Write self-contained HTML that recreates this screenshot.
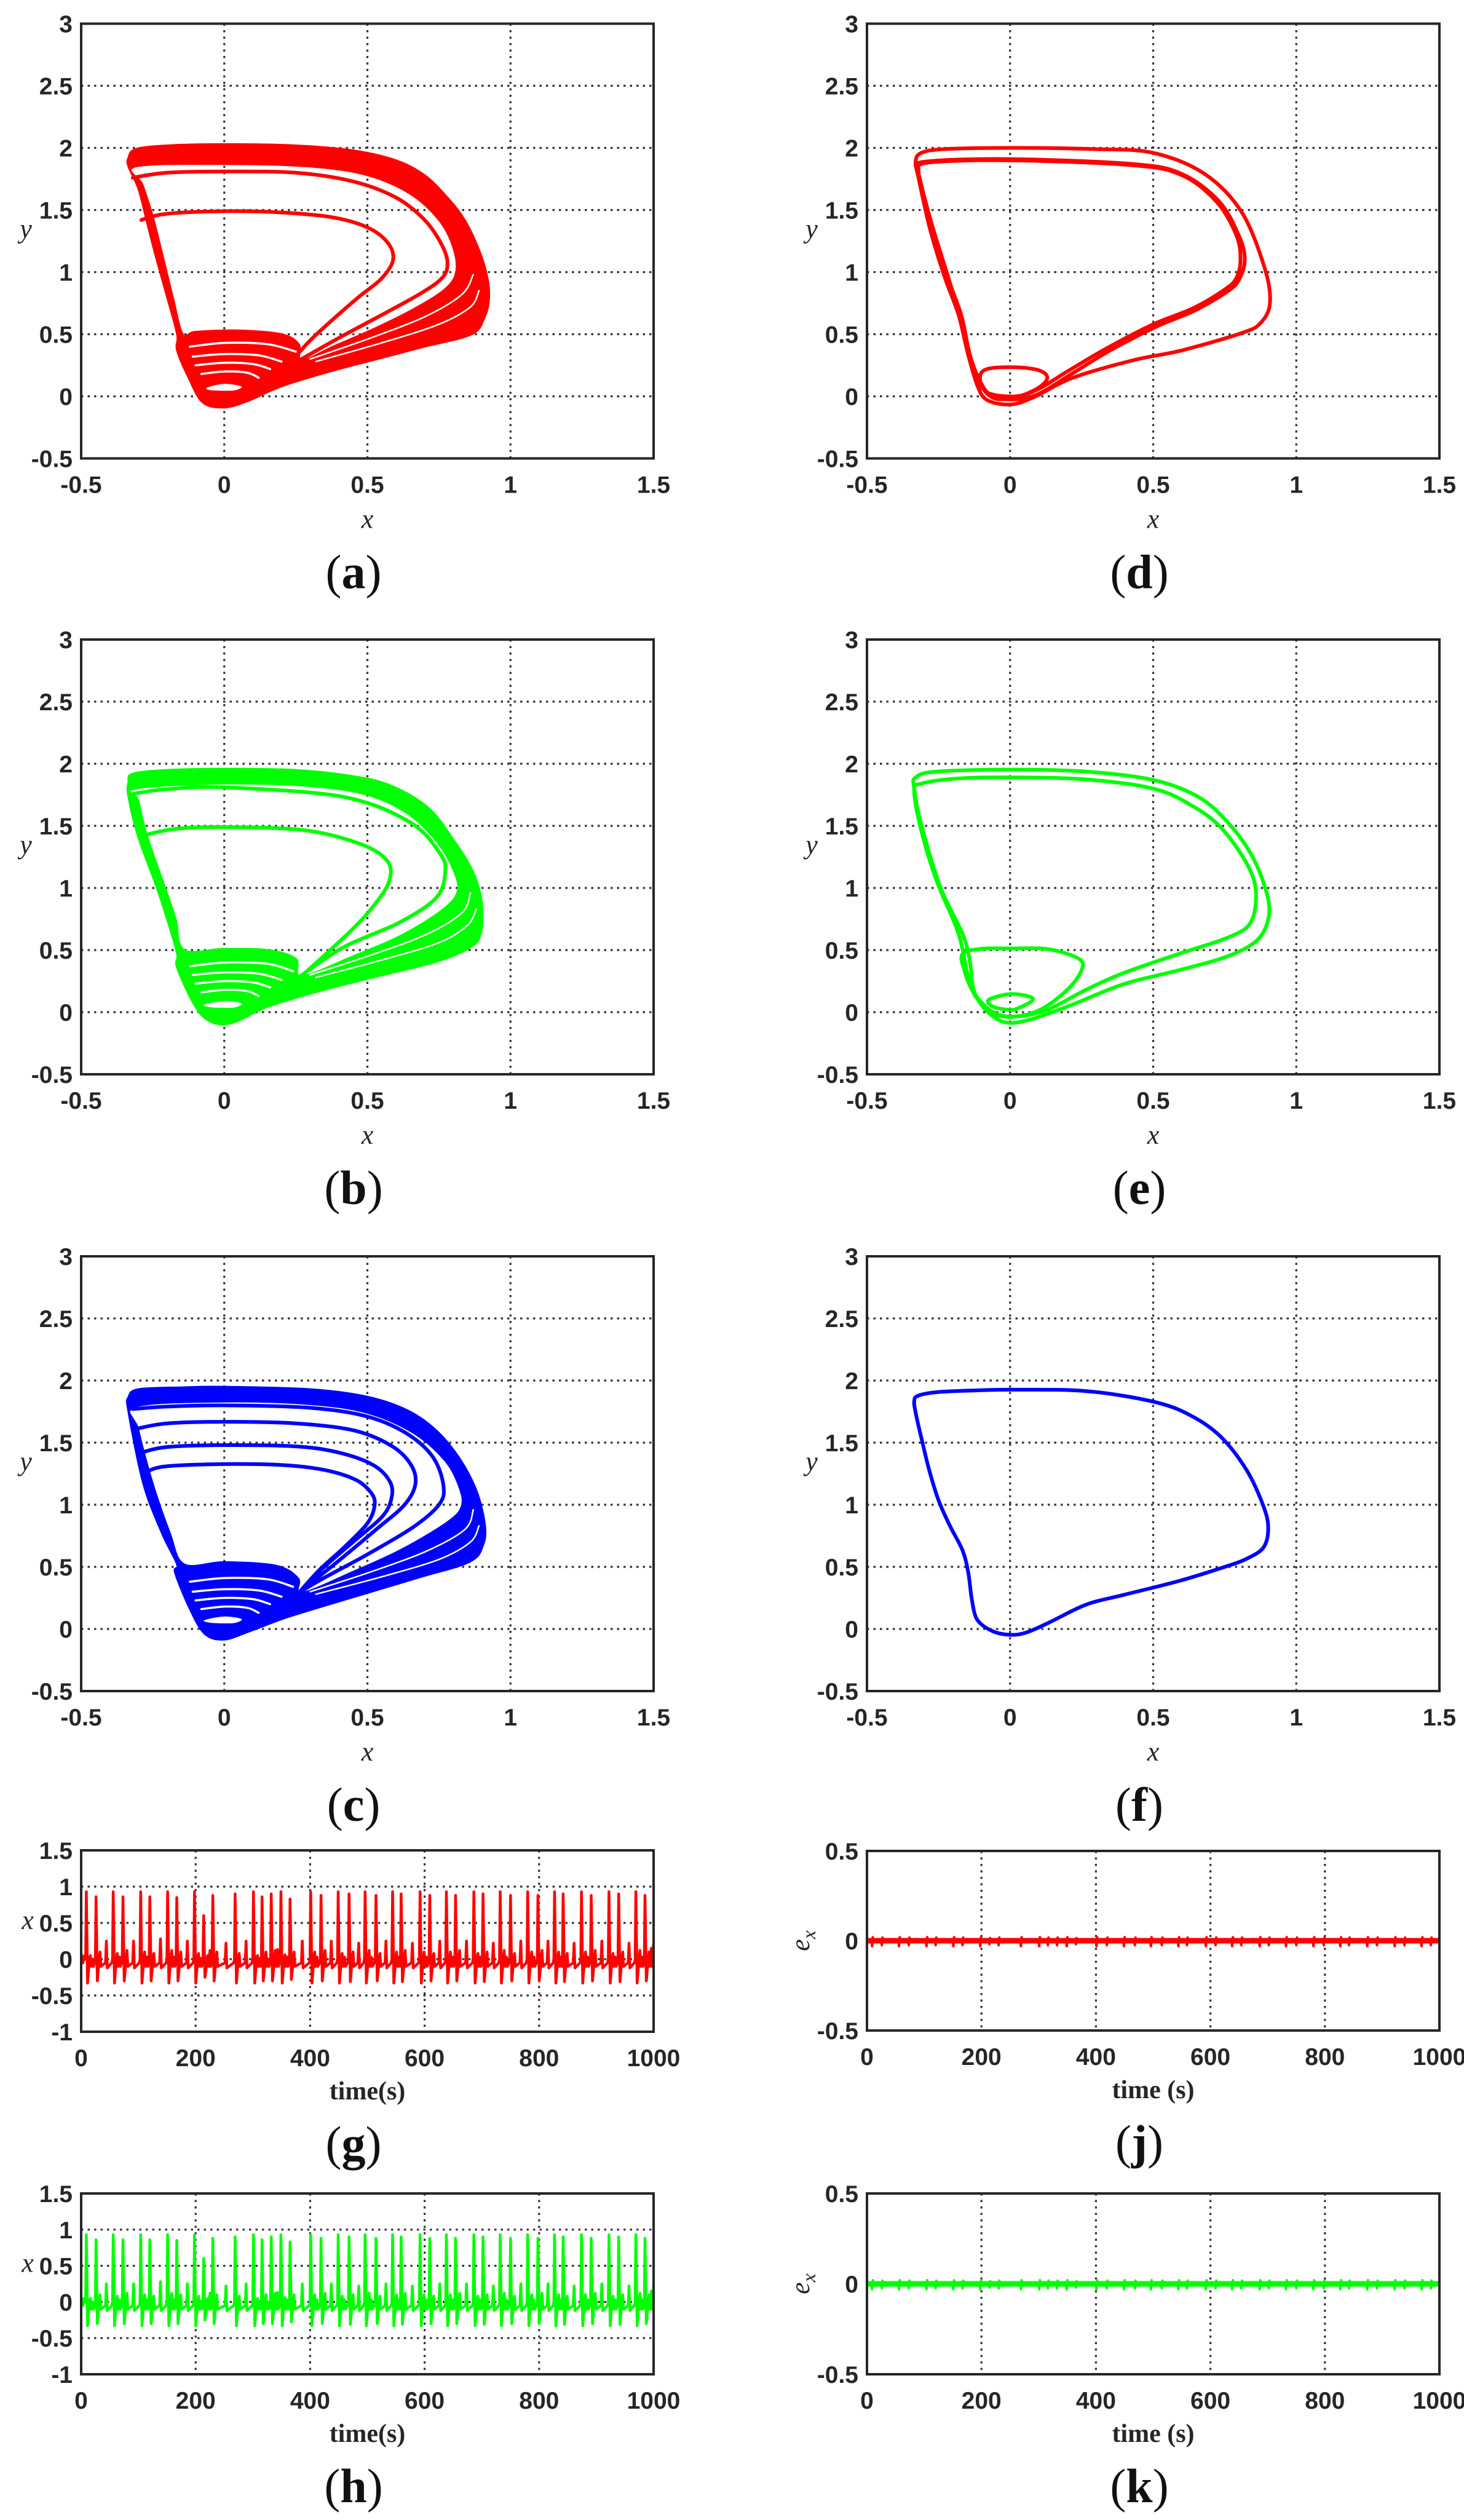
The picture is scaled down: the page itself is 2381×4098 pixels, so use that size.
<!DOCTYPE html>
<html><head><meta charset="utf-8"><style>
html,body{margin:0;padding:0;background:#fff;}
svg{display:block;}
</style></head><body>
<svg id="fig" xmlns="http://www.w3.org/2000/svg" width="2381" height="4098" viewBox="0 0 2381 4098">
<rect x="0" y="0" width="2381" height="4098" fill="#fff"/>
</svg>
<script>
// ---------- tick arrays ----------
const phaseXTicks = [-0.5, 0, 0.5, 1, 1.5];
const phaseXTickLabels = ["-0.5", "0", "0.5", "1", "1.5"];
const phaseYTicks = [3, 2.5, 2, 1.5, 1, 0.5, 0, -0.5];
const phaseYTickLabels = ["3", "2.5", "2", "1.5", "1", "0.5", "0", "-0.5"];
const timeXTicks = [0, 200, 400, 600, 800, 1000];
const timeXTickLabels = ["0", "200", "400", "600", "800", "1000"];
const timeYTicks = [1.5, 1, 0.5, 0, -0.5, -1];
const timeYTickLabels = ["1.5", "1", "0.5", "0", "-0.5", "-1"];
const errYTicks = [0.5, 0, -0.5];
const errYTickLabels = ["0.5", "0", "-0.5"];

// ---------- panel (a) red chaotic ----------
const aOuter = [[-0.335,1.92],[-0.31,1.99],[-0.2,2.02],[0,2.03],[0.25,2.02],[0.45,1.98],[0.6,1.9],[0.7,1.78],[0.78,1.6],[0.84,1.42],[0.89,1.18],[0.92,0.95],[0.925,0.78],[0.91,0.64],[0.865,0.5],[0.7,0.4],[0.535,0.3],[0.37,0.2],[0.2,0.08],[0.08,-0.04],[0,-0.09],[-0.075,-0.05],[-0.125,0.15],[-0.165,0.37],[-0.165,0.5],[-0.2,0.8],[-0.24,1.13],[-0.27,1.4],[-0.3,1.67],[-0.335,1.85]];
const aHole = [[-0.31,1.85],[0,1.87],[0.3,1.85],[0.5,1.78],[0.65,1.63],[0.75,1.42],[0.8,1.2],[0.81,1.0],[0.77,0.86],[0.66,0.7],[0.52,0.54],[0.38,0.4],[0.27,0.29],[0.26,0.42],[0.2,0.5],[0.05,0.53],[-0.1,0.52],[-0.145,0.5],[-0.18,0.8],[-0.215,1.13],[-0.25,1.45],[-0.285,1.7]];
const aStrand1 = [[-0.32,1.76],[-0.2,1.8],[0,1.81],[0.25,1.8],[0.45,1.73],[0.6,1.6],[0.7,1.42],[0.76,1.22],[0.78,1.07],[0.76,0.95],[0.68,0.82],[0.53,0.63],[0.4,0.47],[0.27,0.3]];
const aStrand2 = [[-0.29,1.42],[-0.2,1.47],[0,1.49],[0.2,1.48],[0.38,1.44],[0.5,1.36],[0.57,1.24],[0.59,1.1],[0.55,0.95],[0.47,0.8],[0.38,0.62],[0.3,0.45],[0.25,0.32]];
const aGap1 = [[-0.12,0.4],[0,0.43],[0.15,0.42],[0.25,0.36]];
const aGap2 = [[-0.11,0.32],[0,0.34],[0.12,0.33],[0.2,0.28]];
const aGap3 = [[-0.1,0.25],[0,0.27],[0.1,0.26],[0.16,0.22]];
const aGap4 = [[-0.08,0.18],[0,0.2],[0.08,0.19],[0.12,0.15]];
const aFan1 = [[0.3,0.3],[0.5,0.46],[0.7,0.64],[0.83,0.82],[0.87,0.98]];
const aFan2 = [[0.32,0.28],[0.55,0.43],[0.75,0.58],[0.86,0.72],[0.89,0.85]];
const aEye = [[-0.06,0.07],[0,0.1],[0.06,0.08],[0.04,0.05],[0,0.045],[-0.05,0.05]];

// ---------- panel (b) green chaotic ----------
const bOuter = [[-0.335,1.85],[-0.32,1.92],[-0.2,1.95],[0,1.96],[0.25,1.95],[0.45,1.9],[0.583,1.824],[0.714,1.644],[0.805,1.374],[0.87,1.126],[0.9,0.88],[0.896,0.63],[0.857,0.518],[0.74,0.405],[0.544,0.293],[0.349,0.18],[0.154,0.045],[0.023,-0.09],[-0.055,-0.068],[-0.107,0.068],[-0.165,0.36],[-0.165,0.473],[-0.2,0.75],[-0.237,1.01],[-0.302,1.42],[-0.335,1.734]];
const bHole = [[-0.31,1.8],[0,1.84],[0.3,1.82],[0.5,1.75],[0.64,1.6],[0.74,1.38],[0.8,1.15],[0.815,0.97],[0.76,0.82],[0.62,0.62],[0.45,0.45],[0.27,0.29],[0.25,0.43],[0.154,0.5],[0,0.51],[-0.14,0.5],[-0.17,0.75],[-0.205,0.99],[-0.27,1.42],[-0.3,1.7]];
const bStrand1 = [[-0.315,1.76],[-0.2,1.795],[0,1.81],[0.414,1.734],[0.648,1.53],[0.753,1.28],[0.772,1.126],[0.74,0.92],[0.61,0.72],[0.414,0.52],[0.26,0.28]];
const bStrand2 = [[-0.289,1.42],[-0.172,1.475],[0,1.49],[0.284,1.464],[0.48,1.35],[0.57,1.216],[0.577,1.06],[0.53,0.88],[0.44,0.65],[0.26,0.27]];
const bGap1 = [[-0.12,0.37],[0,0.4],[0.15,0.39],[0.24,0.33]];
const bGap2 = [[-0.11,0.3],[0,0.32],[0.12,0.31],[0.2,0.26]];
const bGap3 = [[-0.1,0.23],[0,0.25],[0.1,0.24],[0.16,0.2]];
const bGap4 = [[-0.08,0.16],[0,0.18],[0.08,0.17],[0.12,0.13]];
const bFan1 = [[0.3,0.3],[0.5,0.45],[0.7,0.62],[0.83,0.8],[0.86,0.96]];
const bFan2 = [[0.32,0.28],[0.55,0.42],[0.75,0.56],[0.85,0.7],[0.88,0.83]];
const bEye = [[-0.07,0.06],[0,0.09],[0.06,0.07],[0.04,0.04],[0,0.035],[-0.05,0.04]];

// ---------- panel (c) blue chaotic ----------
const cOuter = [[-0.335,1.865],[-0.3,1.93],[-0.15,1.945],[0,1.95],[0.3,1.93],[0.5,1.87],[0.64,1.76],[0.74,1.6],[0.82,1.38],[0.88,1.12],[0.91,0.85],[0.905,0.68],[0.857,0.54],[0.674,0.41],[0.414,0.23],[0.22,0.094],[0.09,-0.018],[0,-0.085],[-0.068,-0.04],[-0.12,0.16],[-0.172,0.453],[-0.165,0.52],[-0.217,0.767],[-0.283,1.17],[-0.335,1.75]];
const cHole = [[-0.31,1.79],[0,1.83],[0.3,1.81],[0.5,1.74],[0.66,1.58],[0.77,1.36],[0.82,1.15],[0.83,0.99],[0.78,0.86],[0.62,0.64],[0.45,0.46],[0.27,0.29],[0.258,0.408],[0.18,0.51],[0,0.538],[-0.14,0.52],[-0.19,0.77],[-0.25,1.17],[-0.3,1.6]];
const cStrand1 = [[-0.32,1.77],[-0.2,1.79],[0,1.8],[0.3,1.78],[0.5,1.71],[0.64,1.57],[0.73,1.38],[0.766,1.15],[0.75,1.0],[0.66,0.82],[0.5,0.6],[0.34,0.4],[0.26,0.29]];
const cStrand2 = [[-0.31,1.61],[-0.2,1.655],[0,1.668],[0.25,1.655],[0.45,1.6],[0.58,1.48],[0.65,1.33],[0.668,1.17],[0.63,1.0],[0.53,0.8],[0.4,0.55],[0.26,0.29]];
const cStrand3 = [[-0.29,1.42],[-0.2,1.465],[0,1.48],[0.25,1.47],[0.4,1.42],[0.52,1.32],[0.58,1.18],[0.583,1.04],[0.55,0.9],[0.45,0.7],[0.35,0.5],[0.26,0.29]];
const cStrand4 = [[-0.27,1.27],[-0.2,1.31],[0,1.327],[0.2,1.32],[0.35,1.28],[0.46,1.2],[0.515,1.09],[0.525,0.99],[0.5,0.85],[0.42,0.66],[0.33,0.47],[0.26,0.29]];
const cGap1 = [[-0.12,0.38],[0,0.41],[0.15,0.4],[0.24,0.34]];
const cGap2 = [[-0.11,0.3],[0,0.32],[0.12,0.31],[0.2,0.26]];
const cGap3 = [[-0.1,0.23],[0,0.25],[0.1,0.24],[0.16,0.2]];
const cGap4 = [[-0.08,0.16],[0,0.18],[0.08,0.17],[0.12,0.13]];
const cFan1 = [[0.3,0.3],[0.5,0.45],[0.7,0.62],[0.84,0.8],[0.87,0.96]];
const cFan2 = [[0.32,0.28],[0.55,0.42],[0.75,0.56],[0.86,0.7],[0.89,0.83]];
const cEye = [[-0.07,0.07],[0,0.1],[0.06,0.08],[0.04,0.05],[0,0.045],[-0.05,0.05]];

// ---------- panel (d) red periodic ----------
const dLoop1 = [[0,2.0],[0.3,1.99],[0.5,1.96],[0.68,1.79],[0.81,1.48],[0.89,1.03],[0.908,0.75],[0.875,0.59],[0.81,0.51],[0.6,0.37],[0.43,0.29],[0.22,0.15],[0.08,-0.01],[0,-0.066],[-0.08,-0.03],[-0.114,0.085],[-0.147,0.34],[-0.18,0.655],[-0.23,0.97],[-0.28,1.35],[-0.32,1.76],[-0.33,1.89],[-0.31,1.96],[-0.23,1.99]];
const dLoop2 = [[-0.32,1.83],[-0.295,1.89],[0,1.91],[0.43,1.87],[0.6,1.79],[0.73,1.57],[0.8,1.29],[0.82,1.1],[0.8,0.94],[0.76,0.845],[0.645,0.69],[0.51,0.56],[0.35,0.37],[0.215,0.18],[0.1,0.02],[0.016,-0.025],[-0.06,0.0],[-0.1,0.1],[-0.14,0.33],[-0.17,0.65],[-0.22,0.97],[-0.27,1.35],[-0.31,1.7]];
const dLoop3 = [[-0.32,1.8],[-0.29,1.88],[0,1.9],[0.43,1.86],[0.6,1.78],[0.72,1.57],[0.79,1.3],[0.805,1.1],[0.79,0.95],[0.75,0.86],[0.64,0.71],[0.5,0.58],[0.34,0.39],[0.2,0.2],[0.1,0.06],[0.02,0.0],[-0.08,0.03],[-0.105,0.15],[-0.08,0.22],[0.016,0.234],[0.1,0.21],[0.13,0.15],[0.1,0.07],[0.03,0.0],[-0.05,-0.02],[-0.1,0.08],[-0.14,0.3],[-0.17,0.6],[-0.215,0.95],[-0.265,1.32],[-0.305,1.65],[-0.32,1.8]];

// ---------- panel (e) green periodic ----------
const eLoop1 = [[0,1.953],[0.265,1.937],[0.5,1.87],[0.657,1.734],[0.76,1.53],[0.84,1.28],[0.89,1.01],[0.905,0.788],[0.866,0.586],[0.76,0.45],[0.59,0.338],[0.396,0.225],[0.2,0.045],[0.056,-0.068],[-0.022,-0.079],[-0.087,0.023],[-0.127,0.18],[-0.14,0.405],[-0.166,0.63],[-0.244,1.01],[-0.31,1.51],[-0.335,1.8],[-0.33,1.89],[-0.257,1.937]];
const eLoop2 = [[-0.335,1.78],[-0.31,1.84],[-0.19,1.88],[0,1.89],[0.265,1.874],[0.5,1.8],[0.63,1.67],[0.735,1.49],[0.826,1.2],[0.859,0.97],[0.84,0.72],[0.76,0.6],[0.59,0.47],[0.396,0.315],[0.265,0.18],[0.134,0.023],[0.03,-0.034],[-0.048,-0.023],[-0.1,0.068],[-0.14,0.225],[-0.18,0.63],[-0.257,1.06],[-0.31,1.46]];
const eLoop3 = [[-0.166,0.47],[-0.1,0.51],[0,0.513],[0.134,0.507],[0.24,0.43],[0.25,0.338],[0.2,0.18],[0.108,0.023],[0.017,-0.034],[-0.06,0.0],[-0.127,0.158],[-0.16,0.338]];
const eLoop4 = [[-0.074,0.1],[0,0.146],[0.069,0.124],[0.076,0.09],[0.03,0.034],[0,0.018],[-0.06,0.045]];

// ---------- panel (f) blue periodic ----------
const fLoop1 = [[0,1.926],[0.265,1.915],[0.5,1.83],[0.63,1.72],[0.735,1.55],[0.826,1.28],[0.885,0.99],[0.902,0.81],[0.885,0.655],[0.826,0.565],[0.748,0.498],[0.59,0.386],[0.396,0.274],[0.265,0.195],[0.134,0.049],[0.056,-0.029],[0,-0.047],[-0.061,-0.018],[-0.114,0.072],[-0.133,0.229],[-0.146,0.453],[-0.166,0.632],[-0.211,0.834],[-0.25,1.036],[-0.283,1.283],[-0.309,1.529],[-0.329,1.731],[-0.335,1.832],[-0.322,1.877],[-0.257,1.906],[-0.127,1.92]];

// ---------- time series (g),(h) ----------
const peakT = [9,26,56,73,104,120,151,167,198,214,230,269,301,316,332,349,365,401,419,449,468,496,515,544,559,592,609,638,654,686,702,732,750,780,798,827,842,874,891,922,939,969,985];
const peakH = [0.93,0.86,0.93,0.86,0.93,0.86,0.93,0.85,0.93,0.6,0.88,0.9,0.93,0.86,0.9,0.93,0.83,0.93,0.88,0.93,0.9,0.93,0.88,0.93,0.9,0.93,0.88,0.93,0.88,0.93,0.9,0.93,0.88,0.93,0.88,0.93,0.9,0.93,0.88,0.93,0.9,0.93,0.88];
const troughV = [-0.33,-0.3,-0.33,-0.3,-0.33,-0.3,-0.33,-0.3,-0.33,-0.25,-0.3,-0.33,-0.33,-0.3,-0.3,-0.33,-0.28,-0.33,-0.3,-0.33,-0.31,-0.33,-0.3,-0.33,-0.31,-0.33,-0.3,-0.33,-0.3,-0.33,-0.31,-0.33,-0.3,-0.33,-0.3,-0.33,-0.31,-0.33,-0.3,-0.33,-0.31,-0.33,-0.3];
const wigA = [0.05,0.1,0.08,0.12,0.1,0.08,0.12,0.1,0.08,0.05,0.1,0.08,0.05,0.1,0.12,0.06,0.1,0.1,0.12,0.08,0.1,0.12,0.08,0.1,0.12,0.1,0.08,0.1,0.12,0.08,0.1,0.12,0.08,0.1,0.12,0.1,0.08,0.1,0.12,0.08,0.1,0.12,0.1];
const wigB = [0.0,0.25,0.05,0.25,0.05,0.28,0.05,0.25,0.02,0.2,0.22,0.25,0.02,0.0,0.22,0.05,0.25,0.05,0.25,0.05,0.22,0.05,0.25,0.05,0.22,0.05,0.25,0.05,0.25,0.05,0.22,0.05,0.25,0.05,0.25,0.05,0.22,0.05,0.25,0.05,0.22,0.05,0.25];

// ---------- synchronization error (j),(k) ----------
const errT = [9,26,56,73,104,120,151,167,198,214,230,269,301,316,332,349,365,401,419,449,468,496,515,544,559,592,609,638,654,686,702,732,750,780,798,827,842,874,891,922,939,969,985];
const errV = [-0.03,-0.025,-0.03,-0.025,-0.03,-0.025,-0.03,-0.025,-0.03,-0.02,-0.025,-0.03,-0.03,-0.025,-0.025,-0.03,-0.02,-0.03,-0.025,-0.03,-0.025,-0.03,-0.025,-0.03,-0.025,-0.03,-0.025,-0.03,-0.025,-0.03,-0.025,-0.03,-0.025,-0.03,-0.025,-0.03,-0.025,-0.03,-0.025,-0.03,-0.025,-0.03,-0.025];
const errUp = [0.02,0.018,0.02,0.018,0.02,0.018,0.02,0.018,0.02,0.015,0.018,0.02,0.02,0.018,0.018,0.02,0.015,0.02,0.018,0.02,0.018,0.02,0.018,0.02,0.018,0.02,0.018,0.02,0.018,0.02,0.018,0.02,0.018,0.02,0.018,0.02,0.018,0.02,0.018,0.02,0.018,0.02,0.018];

// ================= drawing =================
const NS = "http://www.w3.org/2000/svg";
const svg = document.getElementById("fig");
const INK = "#262626";
function mk(tag, parent) { const e = document.createElementNS(NS, tag); parent.appendChild(e); return e; }
function smooth(P, closed) {
  const n = P.length;
  const get = i => closed ? P[(i + n) % n] : P[Math.max(0, Math.min(n - 1, i))];
  let d = "M" + P[0][0].toFixed(1) + "," + P[0][1].toFixed(1);
  const segs = closed ? n : n - 1;
  for (let i = 0; i < segs; i++) {
    const p0 = get(i - 1), p1 = get(i), p2 = get(i + 1), p3 = get(i + 2);
    const c1 = [p1[0] + (p2[0] - p0[0]) / 6, p1[1] + (p2[1] - p0[1]) / 6];
    const c2 = [p2[0] - (p3[0] - p1[0]) / 6, p2[1] - (p3[1] - p1[1]) / 6];
    d += "C" + c1[0].toFixed(1) + "," + c1[1].toFixed(1) + " " + c2[0].toFixed(1) + "," + c2[1].toFixed(1) + " " + p2[0].toFixed(1) + "," + p2[1].toFixed(1);
  }
  if (closed) d += "Z";
  return d;
}
function txt(parent, x, y, s, size, anchor, family, weight, style) {
  const t = mk("text", parent);
  t.setAttribute("x", x); t.setAttribute("y", y);
  t.setAttribute("font-size", size);
  t.setAttribute("text-anchor", anchor);
  t.setAttribute("font-family", family);
  t.setAttribute("font-weight", weight || "normal");
  t.setAttribute("font-style", style || "normal");
  t.setAttribute("fill", INK);
  t.textContent = s;
  return t;
}
const SANS = "'Liberation Sans', Arial, sans-serif";
const SERIF = "'Liberation Serif', 'Times New Roman', serif";

function makePanel(name, left, top, w, h, xmin, xmax, ymin, ymax) {
  const g = mk("g", svg);
  
  
  const X = v => left + (v - xmin) / (xmax - xmin) * w;
  const Y = v => top + (ymax - v) / (ymax - ymin) * h;
  return { g, X, Y, left, top, w, h };
}
function drawGrid(p, xt, yt, hGrid) {
  const gg = mk("g", p.g);
  
  
  xt.forEach(v => {
    const x = p.X(v);
    if (Math.abs(x - p.left) < 2 || Math.abs(x - (p.left + p.w)) < 2) return;
    const l = mk("line", gg);
    
    
    l.setAttribute("x1", x); l.setAttribute("x2", x); l.setAttribute("y1", p.top); l.setAttribute("y2", p.top + p.h);
    l.setAttribute("stroke", "#333"); l.setAttribute("stroke-width", 3.2); l.setAttribute("stroke-dasharray", "3.5 7");
  });
  hGrid.forEach(v => {
    const y = p.Y(v);
    if (Math.abs(y - p.top) < 2 || Math.abs(y - (p.top + p.h)) < 2) return;
    const l = mk("line", gg);
    
    
    l.setAttribute("x1", p.left); l.setAttribute("x2", p.left + p.w); l.setAttribute("y1", y); l.setAttribute("y2", y);
    l.setAttribute("stroke", "#333"); l.setAttribute("stroke-width", 3.2); l.setAttribute("stroke-dasharray", "3.5 7");
  });
}
function drawFrame(p) {
  const r = mk("rect", p.g);
  
  
  r.setAttribute("x", p.left); r.setAttribute("y", p.top); r.setAttribute("width", p.w); r.setAttribute("height", p.h);
  r.setAttribute("fill", "none"); r.setAttribute("stroke", INK); r.setAttribute("stroke-width", 4);
}
function drawTicks(p, xt, xl, yt, yl, size) {
  xt.forEach((v, i) => {
    const t = txt(p.g, p.X(v), p.top + p.h + 56, xl[i], size, "middle", SANS, "bold");
    
    
  });
  yt.forEach((v, i) => {
    const t = txt(p.g, p.left - 14, p.Y(v) + 14, yl[i], size, "end", SANS, "bold");
    
    
  });
}
function caption(p, letter, cy) {
  const t = mk("text", p.g);
  
  
  t.setAttribute("x", p.left + 443); t.setAttribute("y", cy);
  t.setAttribute("font-size", 78); t.setAttribute("text-anchor", "middle");
  t.setAttribute("font-family", SERIF); t.setAttribute("fill", "#111");
  const s1 = mk("tspan", t); s1.textContent = "(";
  const s2 = mk("tspan", t); s2.setAttribute("font-weight", "bold"); s2.textContent = letter;
  const s3 = mk("tspan", t); s3.textContent = ")";
}
function curve(p, pts, closed, color, width, name) {
  const e = mk("path", p.g);
  
  
  e.setAttribute("d", smooth(pts.map(q => [p.X(q[0]), p.Y(q[1])]), closed));
  e.setAttribute("fill", "none"); e.setAttribute("stroke", color); e.setAttribute("stroke-width", width);
  e.setAttribute("stroke-linejoin", "round"); e.setAttribute("stroke-linecap", "round");
  return e;
}
function region(p, outer, hole, color, name) {
  const e = mk("path", p.g);
  
  
  const d = smooth(outer.map(q => [p.X(q[0]), p.Y(q[1])]), true) + smooth(hole.map(q => [p.X(q[0]), p.Y(q[1])]), true);
  e.setAttribute("d", d);
  e.setAttribute("fill", color); e.setAttribute("fill-rule", "evenodd");
  e.setAttribute("stroke", color); e.setAttribute("stroke-width", 3);
}
function blob(p, pts, color, name) {
  const e = mk("path", p.g);
  
  
  e.setAttribute("d", smooth(pts.map(q => [p.X(q[0]), p.Y(q[1])]), true));
  e.setAttribute("fill", color);
}
function phaseAxes(name, left, top) {
  const p = makePanel(name, left, top, 931, 707, -0.5, 1.5, -0.5, 3);
  drawGrid(p, phaseXTicks, phaseYTicks, phaseYTicks);
  return p;
}
function phaseDecor(p, letter) {
  drawFrame(p);
  drawTicks(p, phaseXTicks, phaseXTickLabels, phaseYTicks, phaseYTickLabels, 39);
  const xl = txt(p.g, p.left + p.w / 2, p.top + 820, "x", 44, "middle", SERIF, "normal", "italic");
  
  
  const yl = txt(p.g, p.left - 90, p.top + 348, "y", 44, "middle", SERIF, "normal", "italic");
  
  
  caption(p, letter, p.top + 918);
}
function chaotic(p, color, outer, hole, strands, gaps, fans, eye, tag) {
  region(p, outer, hole, color, tag + "-dense-band");
  strands.forEach(s => curve(p, s, false, color, 6, tag + "-strand"));
  gaps.forEach(s => curve(p, s, false, "#fff", 3.5, tag + "-spiral-gap"));
  fans.forEach(s => curve(p, s, false, "#fff", 2.5, tag + "-fan-gap"));
  blob(p, eye, "#fff", tag + "-spiral-eye");
}

const colL = 132, colR = 1410, rowT = [38.5, 1040, 2043];

let pa = phaseAxes("panel-a", colL, rowT[0]);
chaotic(pa, "#ff0000", aOuter, aHole, [aStrand1, aStrand2], [aGap1, aGap2, aGap3, aGap4], [aFan1, aFan2], aEye, "attractor-a");
phaseDecor(pa, "a");
let pb = phaseAxes("panel-b", colL, rowT[1]);
chaotic(pb, "#00ff00", bOuter, bHole, [bStrand1, bStrand2], [bGap1, bGap2, bGap3, bGap4], [bFan1, bFan2], bEye, "attractor-b");
phaseDecor(pb, "b");
let pc = phaseAxes("panel-c", colL, rowT[2]);
chaotic(pc, "#0000ff", cOuter, cHole, [cStrand1, cStrand2, cStrand3, cStrand4], [cGap1, cGap2, cGap3, cGap4], [cFan1, cFan2], cEye, "attractor-c");
phaseDecor(pc, "c");
let pd = phaseAxes("panel-d", colR, rowT[0]);
curve(pd, dLoop1, true, "#ff0000", 6, "orbit-d-outer");
curve(pd, dLoop2, true, "#ff0000", 6, "orbit-d-inner");
curve(pd, dLoop3, false, "#ff0000", 6, "orbit-d-small-loop");
phaseDecor(pd, "d");
let pe = phaseAxes("panel-e", colR, rowT[1]);
curve(pe, eLoop1, true, "#00ff00", 6, "orbit-e-outer");
curve(pe, eLoop2, true, "#00ff00", 6, "orbit-e-inner");
curve(pe, eLoop3, true, "#00ff00", 6, "orbit-e-mid-loop");
curve(pe, eLoop4, true, "#00ff00", 6, "orbit-e-small-loop");
phaseDecor(pe, "e");
let pf = phaseAxes("panel-f", colR, rowT[2]);
curve(pf, fLoop1, true, "#0000ff", 6, "orbit-f");
phaseDecor(pf, "f");

function timeSeriesPoints() {
  const pts = [[0, 0.08], [3, -0.05], [6, 0.05]];
  for (let i = 0; i < peakT.length; i++) {
    const t0 = peakT[i];
    const t1 = i + 1 < peakT.length ? peakT[i + 1] : 1000;
    const gap = t1 - t0;
    pts.push([t0 - 1.2, 0.0]);
    pts.push([t0, peakH[i]]);
    pts.push([t0 + 2.2, troughV[i]]);
    pts.push([t0 + 4, -0.15]);
    pts.push([t0 + 5.5, 0.0]);
    pts.push([t0 + 7, wigA[i]]);
    pts.push([t0 + 8.5, -0.1]);
    if (gap > 20) {
      pts.push([t0 + gap * 0.55, -0.05]);
      pts.push([t0 + gap * 0.55 + 1.5, wigB[i]]);
      pts.push([t0 + gap * 0.55 + 3, -0.12]);
    } else {
      pts.push([t0 + 11, wigB[i] * 0.6]);
      pts.push([t0 + 12.5, -0.1]);
    }
    if (t1 <= 1000) pts.push([Math.min(1000, t1 - 2.5), -0.05]);
  }
  pts.push([1000, 0.22]);
  return pts.filter(q => q[0] >= 0 && q[0] <= 1000);
}
function timePanel(name, left, top, h, color, letter, ylabelMode) {
  const isErr = ylabelMode === "err";
  const p = isErr ? makePanel(name, left, top, 931, h, 0, 1000, -0.5, 0.5)
                  : makePanel(name, left, top, 931, h, 0, 1000, -1, 1.5);
  drawGrid(p, timeXTicks, isErr ? errYTicks : timeYTicks, isErr ? errYTicks : timeYTicks);
  let d = "";
  if (isErr) {
    const pts = [[0, 0]];
    errT.forEach((t, i) => { pts.push([t - 1.5, 0]); pts.push([t, errV[i]]); pts.push([t + 1.2, errUp[i]]); pts.push([t + 2.5, 0]); });
    pts.push([1000, 0]);
    d = pts.map((q, i) => (i ? "L" : "M") + p.X(q[0]).toFixed(1) + "," + p.Y(q[1]).toFixed(1)).join("");
    const base = mk("line", p.g);
    
    
    base.setAttribute("x1", p.X(0)); base.setAttribute("x2", p.X(1000)); base.setAttribute("y1", p.Y(0)); base.setAttribute("y2", p.Y(0));
    base.setAttribute("stroke", color); base.setAttribute("stroke-width", 9);
    const up = mk("path", p.g);
    
    
    up.setAttribute("d", d);
    up.setAttribute("fill", "none"); up.setAttribute("stroke", color); up.setAttribute("stroke-width", 4);
    up.setAttribute("stroke-linejoin", "round");
  } else {
    const pts = timeSeriesPoints();
    d = pts.map((q, i) => (i ? "L" : "M") + p.X(q[0]).toFixed(1) + "," + p.Y(q[1]).toFixed(1)).join("");
    const ln = mk("path", p.g);
    
    
    ln.setAttribute("d", d);
    ln.setAttribute("fill", "none"); ln.setAttribute("stroke", color); ln.setAttribute("stroke-width", 4.5);
    ln.setAttribute("stroke-linejoin", "round");
  }
  drawFrame(p);
  drawTicks(p, timeXTicks, timeXTickLabels, isErr ? errYTicks : timeYTicks, isErr ? errYTickLabels : timeYTickLabels, 39);
  const tl = txt(p.g, p.left + p.w / 2, p.top + p.h + 110, isErr ? "time (s)" : "time(s)", 42, "middle", SERIF, "bold");
  
  
  if (isErr) {
    const yl = mk("text", p.g);
    
    
    const cx = left - 106, cy = p.Y(0);
    yl.setAttribute("x", cx); yl.setAttribute("y", cy + 12);
    yl.setAttribute("font-size", 44); yl.setAttribute("font-family", SERIF); yl.setAttribute("font-style", "italic");
    yl.setAttribute("text-anchor", "middle"); yl.setAttribute("fill", INK);
    yl.setAttribute("transform", "rotate(-90 " + cx + " " + cy + ")");
    const e1 = mk("tspan", yl); e1.textContent = "e";
    const e2 = mk("tspan", yl); e2.setAttribute("font-size", 32); e2.setAttribute("dy", 10); e2.textContent = "x";
  } else {
    const yl = txt(p.g, left - 87, p.Y(0.5) + 10, "x", 44, "middle", SERIF, "normal", "italic");
    
    
  }
  caption(p, letter, p.top + p.h + 208);
  return p;
}
timePanel("panel-g", colL, 3009, 295, "#ff0000", "g", "x");
timePanel("panel-h", colL, 3567, 294, "#00ff00", "h", "x");
timePanel("panel-j", colR, 3010, 292, "#ff0000", "j", "err");
timePanel("panel-k", colR, 3567, 294, "#00ff00", "k", "err");
</script>
</body></html>
